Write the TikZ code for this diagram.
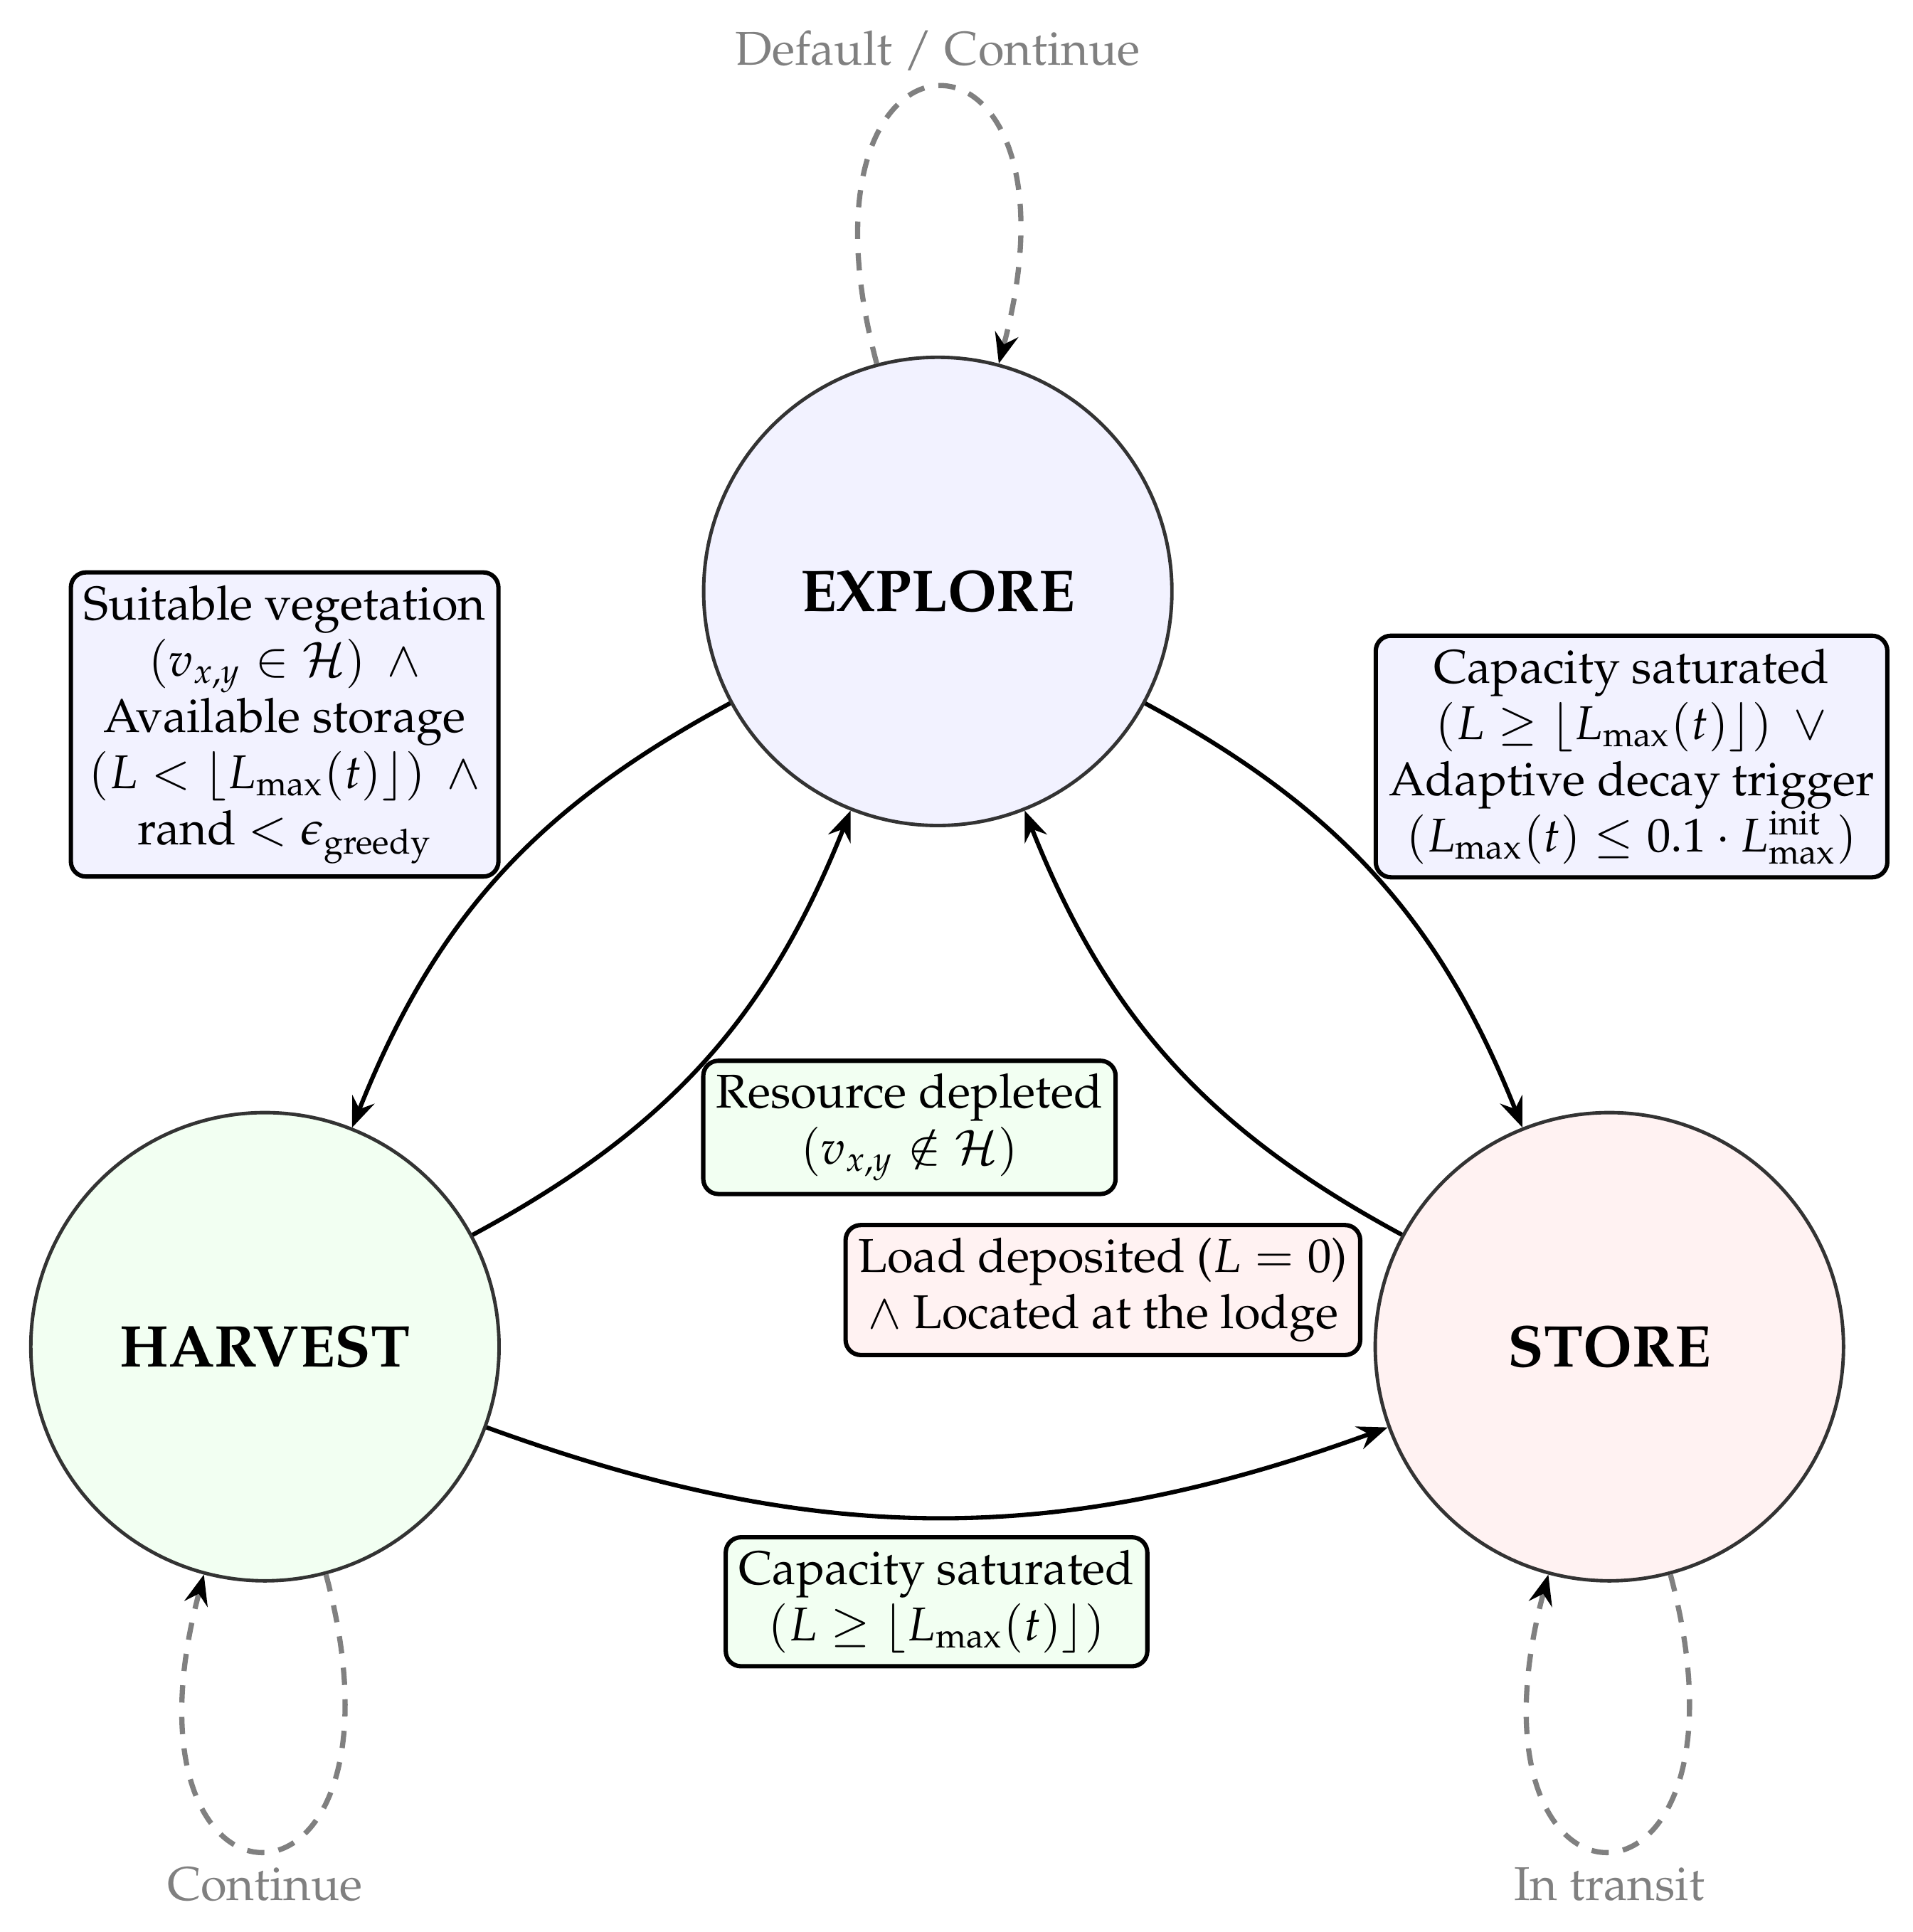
\documentclass[tikz,border=0pt]{standalone}
\usepackage[T1]{fontenc}
\usepackage{mathpazo}
\usepackage{amsmath,amssymb}
\usetikzlibrary{arrows.meta}
\definecolor{myblue}{RGB}{242,242,255}
\definecolor{mygreen}{RGB}{242,255,242}
\definecolor{myred}{RGB}{255,242,242}
\begin{document}
\begin{tikzpicture}[
	>={Stealth[length=7pt,width=5.5pt,inset=2.4pt]},
	state/.style={circle, draw=black!80, thick, minimum size=3.8cm, font=\fontsize{13.6}{16}\selectfont\bfseries},
	cond/.style={draw=black, line width=1pt, rounded corners=3.5pt, align=center, inner sep=3pt, font=\fontsize{10.95}{13}\selectfont},
	trans/.style={->, line width=1pt, black},
	selfloop/.style={line width=1.2pt, gray, dash pattern=on 4pt off 3.3pt, -{Stealth[length=7pt,width=5.5pt,inset=2.4pt,color=black]}},
	looplabel/.style={text=gray, font=\fontsize{10.95}{13}\selectfont},
	every loop/.style={}]
		\useasboundingbox (0,0) rectangle (15.52,15.68);
		
		%States
		\node[state, fill=myblue]  (explore) at (7.61,10.88) {EXPLORE};
		\node[state, fill=mygreen] (harvest) at (2.15,4.75)  {HARVEST};
		\node[state, fill=myred]   (store)   at (13.06,4.75) {STORE};
		
		%Conditions
		\node[cond, fill=myblue] (exharv) at (2.31,9.80) {Suitable vegetation\\ $(v_{x,y}\in\mathcal{H})\;\,\land$\\ Available storage\\ $(L<\lfloor L_{\max}(t)\rfloor)\;\,\land$\\ rand $<\epsilon_{\mathrm{greedy}}$};
		\node[cond, fill=myblue] (exstore) at (13.24,9.54) {Capacity saturated\\ $(L\geq\lfloor L_{\max}(t)\rfloor)\;\,\lor$\\ Adaptive decay trigger\\ $(L_{\max}(t)\leq 0.1\cdot L_{\max}^{\mathrm{init}})$};
		\node[cond, fill=mygreen] (harvex) at (7.38,6.53) {Resource depleted\\ $(v_{x,y}\notin\mathcal{H})$};
		\node[cond, fill=myred] (storex) at (8.95,5.21) {Load deposited ($L=0$)\\ $\land$ Located at the lodge};
		\node[cond, fill=mygreen] (harvstore) at (7.60,2.68) {Capacity saturated\\ $(L\geq\lfloor L_{\max}(t)\rfloor)$};
		
		%Transitions
		\draw[trans] (explore) to[bend right=20] (harvest);
		\draw[trans] (harvest) to[bend right=20] (explore);
		\draw[trans] (explore) to[bend left=20] (store);
		\draw[trans] (store) to[bend left=20] (explore);
		\draw[trans] (harvest) to[bend right=20] (store);
		
		%Self loops
		\draw[selfloop] (explore) to[loop above] node[above, looplabel] {Default / Continue} (explore);
		\draw[selfloop] (harvest) to[loop below] node[below, looplabel] {Continue} (harvest);
		\draw[selfloop] (store) to[loop below] node[below, looplabel] {In transit} (store);
		
	\end{tikzpicture}
\end{document}
